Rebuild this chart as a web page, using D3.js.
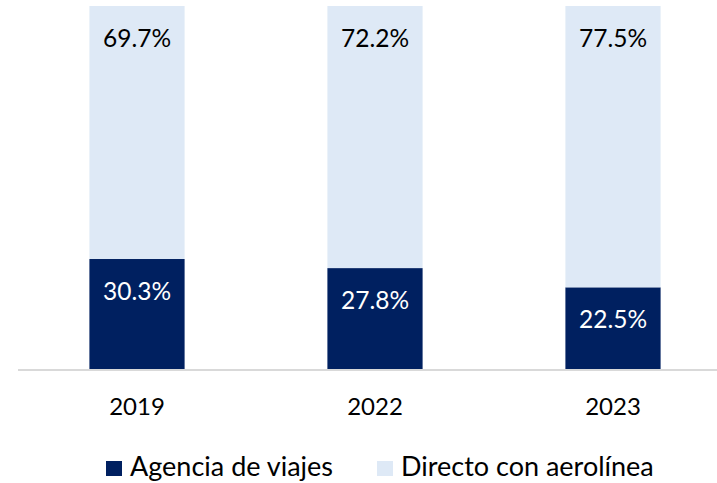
<!DOCTYPE html>
<html>
<head>
<meta charset="utf-8">
<script src="https://cdn.jsdelivr.net/npm/d3@7"></script>
<style>
  html, body { margin: 0; padding: 0; background: #fff; }
  svg { display: block; font-family: Lato, "Open Sans", sans-serif; }
</style>
</head>
<body>
<svg id="chart" width="717" height="483"></svg>
<script>
// Share of airline ticket sales by channel (percent)
const years = ["2019", "2022", "2023"];
const agencia = [30.3, 27.8, 22.5];
const directo = [69.7, 72.2, 77.5];
const seriesNames = ["Agencia de viajes", "Directo con aerolínea"];
const seriesColors = ["#002060", "#dee9f6"];

const svg = d3.select("#chart");
const baseY = 369, topY = 6;

const x = d3.scaleBand().domain(years).range([18, 732]).paddingInner(0.6).paddingOuter(0.3);
const y = d3.scaleLinear().domain([0, 100]).range([baseY, topY]);

const rows = years.map((yr, i) => ({ year: yr, agencia: agencia[i], directo: directo[i] }));
const stack = d3.stack().keys(["agencia", "directo"]);
const layers = stack(rows);

const g = svg.append("g");
layers.forEach((layer, li) => {
  g.selectAll(null).data(layer).enter().append("rect")
    .attr("x", d => x(d.data.year))
    .attr("width", x.bandwidth())
    .attr("y", d => y(d[1]))
    .attr("height", d => y(d[0]) - y(d[1]))
    .attr("fill", seriesColors[li]);
  g.selectAll(null).data(layer).enter().append("text")
    .attr("x", d => x(d.data.year) + x.bandwidth() / 2)
    .attr("y", d => y(d[1]) + 41)
    .attr("text-anchor", "middle")
    .attr("font-size", 24.5)
    .attr("fill", li === 0 ? "#ffffff" : "#000000")
    .text(d => (d[1] - d[0]).toFixed(1) + "%");
});

// Category axis
const axis = svg.append("g")
  .attr("transform", `translate(0,${baseY + 1})`)
  .call(d3.axisBottom(x).tickSize(0));
axis.select(".domain").attr("stroke", "#d9d9d9").attr("stroke-width", 2).attr("d", "M18,0H717");
axis.selectAll("text")
  .attr("y", 45).attr("dy", 0)
  .attr("font-family", "Lato, 'Open Sans', sans-serif")
  .attr("font-size", 24)
  .attr("fill", "#000");

// Legend
const legendX = [106, 377];
const legend = svg.append("g");
seriesNames.forEach((name, i) => {
  legend.append("rect")
    .attr("x", legendX[i]).attr("y", 461)
    .attr("width", 16).attr("height", 15)
    .attr("fill", seriesColors[i]);
  legend.append("text")
    .attr("x", legendX[i] + 24).attr("y", 476)
    .attr("font-size", 27)
    .attr("fill", "#000")
    .text(name);
});
</script>
</body>
</html>
